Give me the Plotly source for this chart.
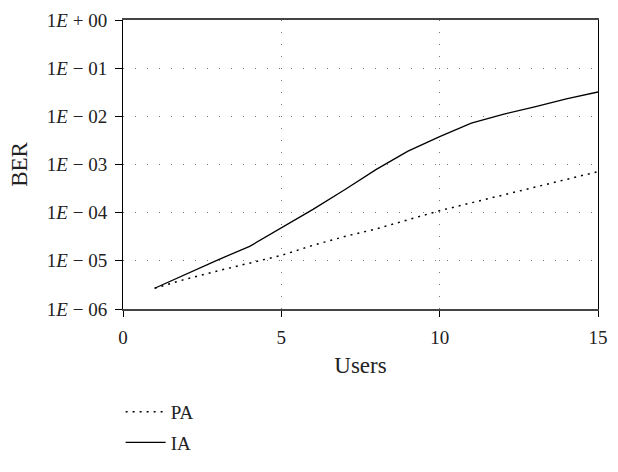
import plotly.graph_objects as go

users = list(range(1, 16))
ber_pa = [2.7e-6, 4.2e-6, 6.2e-6, 8.9e-6, 1.3e-5, 2.1e-5, 3.2e-5, 4.6e-5, 7.2e-5,
          1.1e-4, 1.6e-4, 2.3e-4, 3.4e-4, 4.9e-4, 7.1e-4]
ber_ia = [2.7e-6, 5.4e-6, 1.05e-5, 2.0e-5, 4.8e-5, 1.17e-4, 3.0e-4, 7.9e-4, 1.9e-3,
          3.8e-3, 7.2e-3, 1.1e-2, 1.58e-2, 2.3e-2, 3.2e-2]
y_tickvals = [1e-6, 1e-5, 1e-4, 1e-3, 1e-2, 1e-1, 1e0]
y_ticktext = ["1<i>E</i> − 06", "1<i>E</i> − 05", "1<i>E</i> − 04", "1<i>E</i> − 03",
              "1<i>E</i> − 02", "1<i>E</i> − 01", "1<i>E</i> + 00"]
x_tickvals = [0, 5, 10, 15]

FONT = "Liberation Serif"

fig = go.Figure()
fig.add_trace(go.Scatter(x=users, y=ber_pa, mode="lines", name="PA", legendgroup="a",
                         line=dict(color="black", width=1.5, dash="2px,5px")))
fig.add_trace(go.Scatter(x=users, y=ber_ia, mode="lines", name="IA", legendgroup="b",
                         line=dict(color="black", width=1.3)))

fig.update_layout(
    width=618, height=472,
    margin=dict(l=123, r=10, t=14, b=143),
    paper_bgcolor="white", plot_bgcolor="white",
    font=dict(family=FONT, size=19, color="#222"),
    legend=dict(x=-0.005, xanchor="left", y=-0.29, yanchor="top", itemwidth=40,
                tracegroupgap=3, font=dict(size=19), bgcolor="rgba(0,0,0,0)"),
    showlegend=True,
)
fig.update_xaxes(range=[0, 15], tickvals=x_tickvals, ticks="outside", ticklen=6,
                 tickcolor="black", showline=True, linecolor="#444", linewidth=2,
                 mirror=True, showgrid=True, gridcolor="#777", griddash="1px,11px",
                 gridwidth=1, zeroline=False, ticklabelstandoff=4,
                 title=dict(text="Users", standoff=10))
fig.update_yaxes(type="log", range=[-6, 0], tickvals=y_tickvals, ticktext=y_ticktext,
                 ticks="outside", ticklen=7, tickcolor="black", showline=True,
                 linecolor="black", linewidth=1, mirror=True, showgrid=True,
                 gridcolor="#777", griddash="1px,11px", gridwidth=1, zeroline=False,
                 ticklabelstandoff=4,
                 title=dict(text="BER", standoff=12))

fig.write_html("out.html")
